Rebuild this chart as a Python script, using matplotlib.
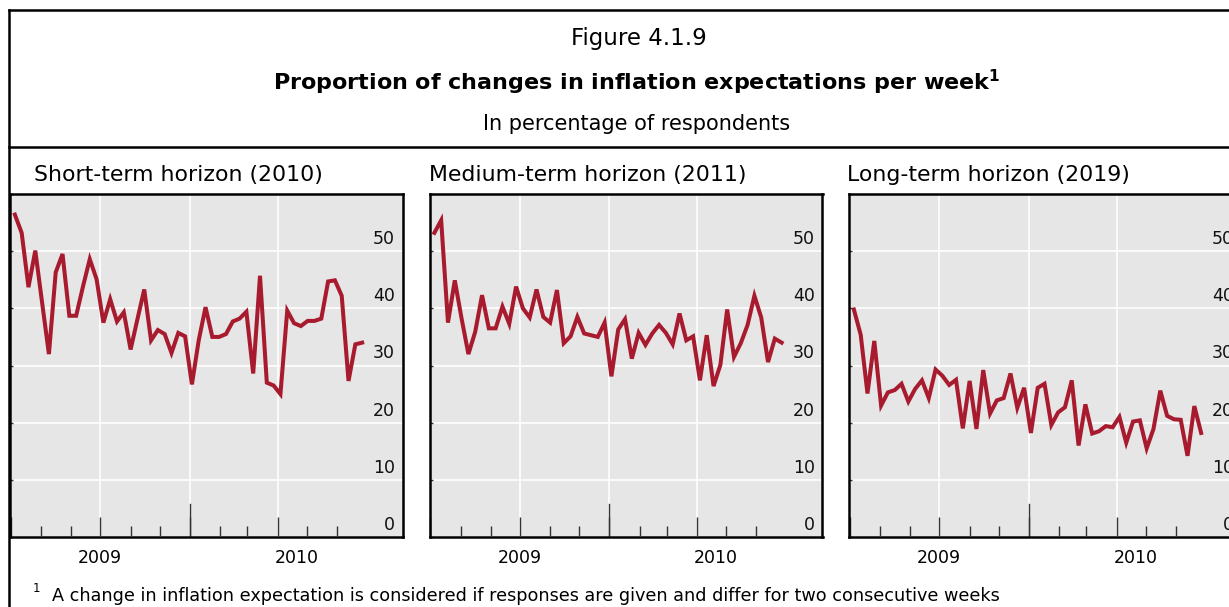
import pandas as pd
import matplotlib
matplotlib.use('Agg')
import matplotlib.pyplot as plt
import matplotlib.dates as mdates
import matplotlib.transforms as mtransforms
from matplotlib.lines import Line2D

# Dati settimanali (in % dei rispondenti)
week_start = '2009-07-05'
n_weeks = 52

short_term = [56.4, 53.2, 43.7, 50.1, 41.0, 32.0, 46.3, 49.5, 38.7, 38.7,
              43.8, 48.6, 45.1, 37.5, 41.6, 37.7, 39.3, 32.8, 38.1, 43.3,
              34.4, 36.2, 35.5, 32.2, 35.7, 35.1, 26.7, 34.4, 40.2, 35.0,
              35.0, 35.5, 37.7, 38.2, 39.4, 28.6, 45.7, 27.0, 26.5, 25.0,
              39.6, 37.4, 36.9, 37.8, 37.8, 38.2, 44.7, 44.9, 42.2, 27.3,
              33.7, 34.0]
medium_term = [53.2, 55.4, 37.5, 44.9, 38.2, 32.0, 35.9, 42.3, 36.5, 36.5,
               40.3, 37.3, 43.8, 40.0, 38.4, 43.3, 38.5, 37.5, 43.2, 33.9,
               35.1, 38.5, 35.6, 35.3, 35.0, 37.5, 28.1, 36.3, 38.1, 31.2,
               35.7, 33.6, 35.6, 37.1, 35.7, 33.7, 39.1, 34.4, 35.1, 27.4,
               35.3, 26.4, 30.1, 39.8, 31.5, 33.9, 37.1, 42.2, 38.4, 30.6,
               34.7, 34.0]
long_term = [39.8, 35.4, 25.1, 34.3, 23.0, 25.3, 25.7, 26.8, 23.7, 25.9,
             27.4, 24.3, 29.3, 28.2, 26.6, 27.5, 19.0, 27.3, 18.9, 29.2,
             21.6, 23.9, 24.3, 28.6, 22.6, 26.1, 18.2, 26.1, 26.8, 19.6,
             21.8, 22.7, 27.4, 16.0, 23.2, 18.1, 18.5, 19.4, 19.2, 21.0,
             16.5, 20.2, 20.4, 15.5, 18.9, 25.6, 21.2, 20.6, 20.5, 14.2,
             22.9, 18.2]

panel_titles = ['Short-term horizon (2010)', 'Medium-term horizon (2011)',
                'Long-term horizon (2019)']
y_ticks = [0, 10, 20, 30, 40, 50]
year_labels = ['2009', '2010']

line_color = '#a81b2e'
bg_color = '#e6e6e6'
tick_color = '#333333'

W, H = 1229, 607
fig = plt.figure(figsize=(W / 100, H / 100), dpi=100)

def fx(px):
    return px / W

def fy(py):
    return 1 - py / H

dates = pd.date_range(week_start, periods=n_weeks, freq='7D')
x_start = pd.Timestamp('2009-06-30')
x_end = pd.Timestamp('2010-08-08')
year_break = pd.Timestamp('2010-01-01')
months = pd.date_range('2009-07-01', '2010-06-01', freq='MS')
quarters = pd.date_range('2009-07-01', '2010-04-01', freq='QS')

# Cornice esterna e intestazione
for xs, ys in [([9, 9], [10, H]), ([9, W], [10, 10]), ([9, W], [147, 147])]:
    fig.add_artist(Line2D([fx(v) for v in xs], [fy(v) for v in ys],
                          transform=fig.transFigure, color='black', lw=1.8))

fig.text(fx(639), fy(45), 'Figure 4.1.9', ha='center', va='baseline', fontsize=16.5)
fig.text(fx(637), fy(90), r'Proportion of changes in inflation expectations per week$^{\mathbf{1}}$',
         ha='center', va='baseline', fontsize=16, fontweight='bold')
fig.text(fx(637), fy(130), 'In percentage of respondents', ha='center', va='baseline',
         fontsize=15)

panel_left = [10, 429.5, 849]
title_left = [34, 429, 847]
series = [short_term, medium_term, long_term]

for left, tleft, title, values in zip(panel_left, title_left, panel_titles, series):
    ax = fig.add_axes([fx(left), fy(537), fx(393), 343 / H])
    ax.set_facecolor(bg_color)
    ax.plot(dates, values, color=line_color, lw=2.9, solid_joinstyle='miter', zorder=3)

    ax.set_xlim(x_start, x_end)
    ax.set_ylim(0, 60)
    ax.set_xticks(quarters)
    ax.set_xticks(months, minor=True)
    ax.set_yticks(y_ticks + [60])
    ax.grid(True, which='major', color='white', lw=1.2)
    ax.set_axisbelow(True)

    ax.tick_params(axis='x', which='major', direction='in', length=14.4, width=1.0,
                   color=tick_color, labelbottom=False)
    ax.tick_params(axis='x', which='minor', direction='in', length=7.7, width=1.0,
                   color=tick_color)
    ax.tick_params(axis='y', direction='in', length=1.8, width=1.0, color=tick_color,
                   labelleft=False)
    ax.axvline(year_break, ymin=0, ymax=33 / 343, color=tick_color, lw=1.0, zorder=2)

    for sp in ax.spines.values():
        sp.set_linewidth(1.8)
        sp.set_color('black')

    # etichette asse y dentro il pannello, a destra
    trans = mtransforms.blended_transform_factory(ax.transAxes, ax.transData)
    off = mtransforms.ScaledTranslation(0, 3 / 100, fig.dpi_scale_trans)
    for v in y_ticks:
        ax.text(0.98, v, str(v), transform=trans + off, ha='right', va='bottom',
                fontsize=12.5, color='#111111')

    # etichette degli anni centrate nella parte visibile di ciascun anno
    x0, x1 = ax.get_xlim()
    xb = mdates.date2num(year_break)
    transx = mtransforms.blended_transform_factory(ax.transData, fig.transFigure)
    for lab, xm in zip(year_labels, [(x0 + xb) / 2, (xb + x1) / 2]):
        ax.text(xm, fy(563), lab, transform=transx, ha='center', va='baseline',
                fontsize=12.5, clip_on=False)

    fig.text(fx(tleft), fy(181), title, ha='left', va='baseline', fontsize=15.8)

fig.text(fx(33), fy(592), '1', ha='left', va='baseline', fontsize=8.5)
fig.text(fx(52), fy(601),
         'A change in inflation expectation is considered if responses are given and '
         'differ for two consecutive weeks', ha='left', va='baseline', fontsize=12.7)

fig.savefig('out.png', dpi=100)
